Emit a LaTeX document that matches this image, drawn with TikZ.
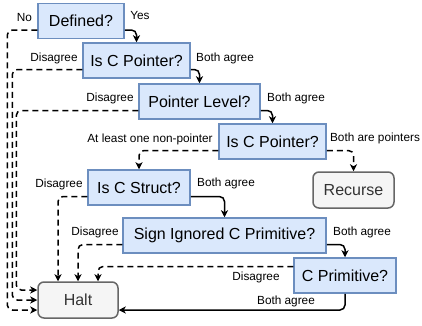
\documentclass[tikz,border=0pt]{standalone}
\usepackage{fontspec}
\setmainfont{Liberation Sans}
\usetikzlibrary{arrows.meta}
\definecolor{bfill}{HTML}{DAE8FC}
\definecolor{bdraw}{HTML}{6C8EBF}
\definecolor{gfill}{HTML}{F5F5F5}
\definecolor{gdraw}{HTML}{666666}
\definecolor{gtext}{HTML}{333333}
\tikzset{
  qbox/.style={draw=bdraw, fill=bfill, line width=1.5pt, minimum height=35pt, inner sep=0pt,
    font=\fontsize{16}{18}\selectfont},
  endbox/.style={draw=gdraw, fill=gfill, line width=1.5pt, rounded corners=6pt, minimum height=36pt,
    inner sep=0pt, text=gtext, font=\fontsize{16}{18}\selectfont},
  lbl/.style={font=\fontsize{11.8}{13}\selectfont, inner sep=0pt},
  yesline/.style={line width=1.5pt, rounded corners=5pt, -{Stealth[length=7pt,width=7pt,inset=2pt]}},
  noline/.style={yesline, dash pattern=on 6pt off 4pt},
}
\begin{document}
\begin{tikzpicture}[x=1pt,y=-1pt]
\useasboundingbox (0,0) rectangle (422,325);
% boxes
\node[qbox, minimum width=86pt] (def) at (81,21) {Defined?};
\node[qbox, minimum width=107pt] (cp1) at (136.5,60.5) {Is C Pointer?};
\node[qbox, minimum width=121pt] (pl) at (199.5,101.5) {Pointer Level?};
\node[qbox, minimum width=107pt] (cp2) at (272.5,141.5) {Is C Pointer?};
\node[qbox, minimum width=102pt] (st) at (139,187.5) {Is C Struct?};
\node[endbox, minimum width=81pt] (rec) at (353.5,190) {Recurse};
\node[qbox, minimum width=203pt] (sign) at (224.5,235.5) {Sign Ignored C Primitive?};
\node[qbox, minimum width=102pt] (cprim) at (345,275.5) {C Primitive?};
\node[endbox, minimum width=80pt] (halt) at (78,300) {Halt};
% labels
\node[lbl] (l1) at (24.5,17) {No};
\node[lbl] (l2) at (140,15) {Yes};
\node[lbl] (l3) at (54,58) {Disagree};
\node[lbl] (l4) at (225,58) {Both agree};
\node[lbl] (l5) at (110,98) {Disagree};
\node[lbl] (l6) at (296,98) {Both agree};
\node[lbl] (l7) at (150,139) {At least one non-pointer};
\node[lbl] (l8) at (375,138) {Both are pointers};
\node[lbl] (l9) at (59,184) {Disagree};
\node[lbl] (l10) at (226,183) {Both agree};
\node[lbl] (l11) at (95,232) {Disagree};
\node[lbl] (l12) at (362,232) {Both agree};
\node[lbl] (l13) at (256,277) {Disagree};
\node[lbl] (l14) at (286,301) {Both agree};
% solid connectors
\draw[yesline] ([yshift=-9pt]def.east) -| (cp1.north);
\draw[yesline] ([yshift=-9pt]cp1.east) -| (pl.north);
\draw[yesline] ([yshift=-9pt]pl.east) -| (cp2.north);
\draw[yesline] ([yshift=-9pt]st.east) -| (sign.north);
\draw[yesline] ([yshift=-9pt]sign.east) -| (cprim.north);
\draw[yesline] (cprim.south) |- ([yshift=-10pt]halt.east);
% dashed connectors
\draw[noline] ([yshift=-9pt]def.west) -| ([xshift=-30pt,yshift=-10pt]halt.west) -- ([yshift=-10pt]halt.west);
\draw[noline] ([yshift=-9pt]cp1.west) -| ([xshift=-25pt]halt.west) -- (halt.west);
\draw[noline] ([yshift=-9pt]pl.west) -| ([xshift=-21pt,yshift=10pt]halt.west) -- ([yshift=10pt]halt.west);
\draw[noline] ([yshift=-9pt]cp2.west) -| (st.north);
\draw[noline] ([yshift=-9pt]cp2.east) -| (rec.north);
\draw[noline] ([yshift=-9pt]st.west) -| ([xshift=-20pt]halt.north);
\draw[noline] ([yshift=-9pt]sign.west) -| (halt.north);
\draw[noline] ([yshift=9pt]cprim.west) -| ([xshift=20pt]halt.north);
\end{tikzpicture}
\end{document}
